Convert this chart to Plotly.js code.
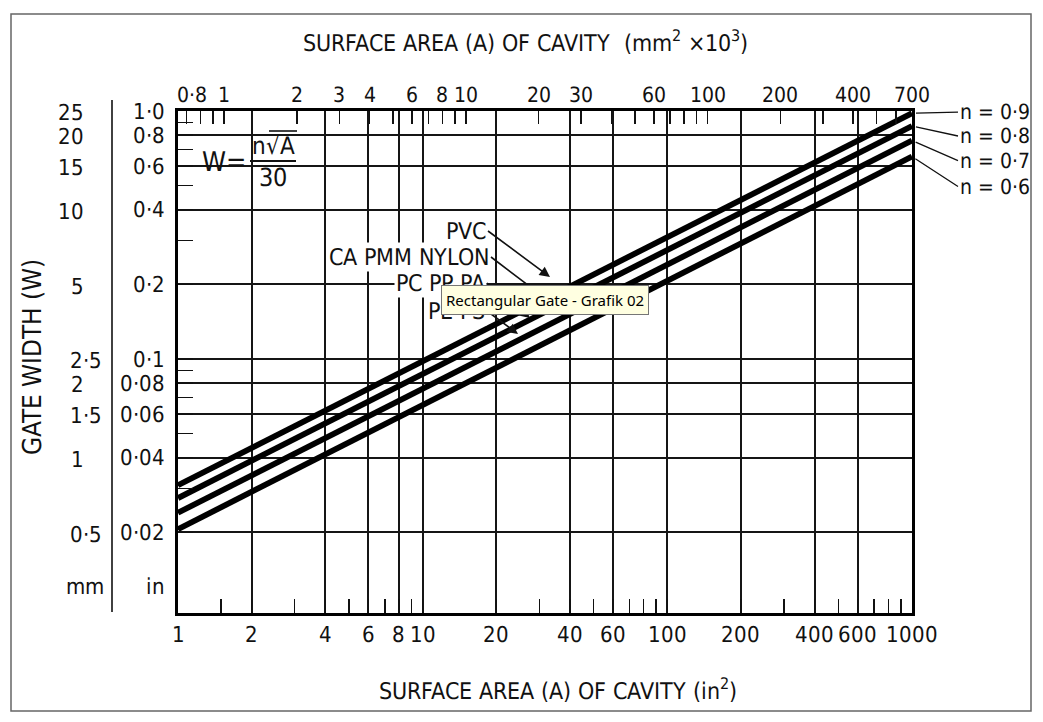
<!DOCTYPE html>
<html>
<head>
<meta charset="utf-8">
<script src="https://cdn.plot.ly/plotly-3.0.1.min.js"></script>
<style>
@font-face { font-family: 'CondSans'; src: local('DejaVu Sans Condensed'), local('DejaVuSansCondensed'), local('Liberation Sans Narrow'), local('LiberationSansNarrow-Regular'); }
html,body{margin:0;padding:0;background:#fff;}#chart{width:1043px;height:722px;}
</style>
</head>
<body>
<div id="chart"></div>
<script>
// ---- data ----
const area_in2 = [1, 1000];
const width_n09 = [0.031, 0.98];
const width_n08 = [0.0275, 0.87];
const width_n07 = [0.024, 0.76];
const width_n06 = [0.0206, 0.655];
const n_labels = ['n = 0·9', 'n = 0·8', 'n = 0·7', 'n = 0·6'];

const bottom_tick_vals = [1, 2, 4, 6, 8, 10, 20, 40, 60, 100, 200, 400, 600, 1000];
const bottom_tick_text = ['1', '2', '4', '6', '8', '10', '20', '40', '60', '100', '200', '400', '600', '1000'];
const bottom_minor_vals = [1.5, 3, 5, 7, 9, 30, 50, 70, 80, 90, 300, 500, 700, 800, 900];

const top_tick_vals = [0.8, 1, 2, 3, 4, 6, 8, 10, 20, 30, 60, 100, 200, 400, 700];
const top_tick_text = ['0·8\u00a0\u00a0\u00a0', '1', '2', '3', '4', '6', '8', '10', '20', '30', '60', '100', '200', '400', '700'];
const top_minor_vals = [0.7, 0.9, 5, 7, 9, 40, 50, 70, 80, 90, 300, 500, 600];
const top_range_mm2k = [0.645, 700];

const in_tick_vals = [1, 0.8, 0.6, 0.4, 0.2, 0.1, 0.08, 0.06, 0.04, 0.02];
const in_tick_text = ['1·0', '0·8', '0·6', '0·4', '0·2', '0·1', '0·08', '0·06', '0·04', '0·02'];
const in_minor_vals = [0.9, 0.7, 0.5, 0.3, 0.09, 0.07, 0.05, 0.03];
const in_range = [0.00946, 1.0];

const mm_int_vals = [25, 20, 15, 10, 5, 2, 1];
const mm_int_text = ['25', '20', '15', '10', '5', '2', '1'];
const mm_dec_vals = [2.5, 1.5, 0.5];
const mm_dec_text = ['2·5', '1·5', '0·5'];
const MM_PER_IN = 25.4;

const materials = ['PVC', 'CA PMM NYLON', 'PC PP PA', 'PE PS'];

// ---- layout helpers (pixel -> paper) ----
const W = 1043, H = 722;
const px = v => v / W;
const py = v => 1 - v / H;
const FONT = 'CondSans, "DejaVu Sans Condensed", "Liberation Sans Narrow", sans-serif';
const INK = '#111';
const L = Math.log10;

function draw() {
  const lineStyle = {color: '#000', width: 5.8};
  const traces = [
    {x: area_in2, y: width_n09, mode: 'lines', line: lineStyle, name: 'n=0.9'},
    {x: area_in2, y: width_n08, mode: 'lines', line: lineStyle, name: 'n=0.8'},
    {x: area_in2, y: width_n07, mode: 'lines', line: lineStyle, name: 'n=0.7'},
    {x: area_in2, y: width_n06, mode: 'lines', line: lineStyle, name: 'n=0.6'},
    {x: [], y: [], xaxis: 'x2', yaxis: 'y', mode: 'lines', showlegend: false},
    {x: [], y: [], xaxis: 'x', yaxis: 'y2', mode: 'lines', showlegend: false},
    {x: [], y: [], xaxis: 'x', yaxis: 'y3', mode: 'lines', showlegend: false}
  ];

  const ends = [width_n09[1], width_n08[1], width_n07[1], width_n06[1]];
  const nAy = [-1, 10, 20, 30];

  const P = (x, y, text, size, extra) => Object.assign({
    xref: 'paper', yref: 'paper', x: px(x), y: py(y), xanchor: 'center', yanchor: 'middle',
    showarrow: false, text: text, font: {family: FONT, size: size, color: INK}
  }, extra || {});

  const annotations = [
    P(525, 41, 'SURFACE AREA (A) OF CAVITY  (mm<sup>2</sup> ×10<sup>3</sup>)', 23),
    P(558, 689, 'SURFACE AREA (A) OF CAVITY (in<sup>2</sup>)', 23),
    P(32, 357, 'GATE WIDTH (W)', 26, {textangle: -90}),
    P(85, 586, 'mm', 22),
    P(155, 586, 'in', 22),
    P(224, 162, 'W=', 27),
    P(273, 146, 'n√A', 24),
    P(273, 177, '30', 25)
  ];

  // material pointers (head px, tail px)
  const matHeads = [[550, 277], [545, 298], [530, 318], [518, 334]];
  const matTails = [[488, 231], [491, 257], [487, 283], [487, 311]];
  materials.forEach((m, i) => {
    annotations.push({
      xref: 'paper', yref: 'paper', x: px(matHeads[i][0]), y: py(matHeads[i][1]),
      ax: matTails[i][0] - matHeads[i][0], ay: matTails[i][1] - matHeads[i][1],
      xanchor: 'right', yanchor: 'middle', text: m, showarrow: true,
      arrowhead: 2, arrowsize: 1.3, arrowwidth: 1.6, arrowcolor: INK,
      bgcolor: '#fff', borderpad: 1, font: {family: FONT, size: 23, color: INK}
    });
  });

  // n labels at line ends
  n_labels.forEach((t, i) => {
    annotations.push({
      x: L(area_in2[1]), y: L(ends[i]), xref: 'x', yref: 'y',
      ax: 46, ay: nAy[i], xanchor: 'left', yanchor: 'middle', text: t,
      showarrow: true, arrowhead: 0, arrowwidth: 1.3, arrowcolor: INK, standoff: 4,
      font: {family: FONT, size: 21, color: INK}
    });
  });

  // tooltip
  annotations.push(P(545, 300, 'Rectangular Gate - Grafik 02', 15, {
    bgcolor: '#ffffe1', bordercolor: '#767676', borderwidth: 1, borderpad: 4,
    font: {family: 'Noto Sans, DejaVu Sans, sans-serif', size: 15, color: '#000'}
  }));

  const shapes = [
    {type: 'rect', xref: 'x', yref: 'y', layer: 'between', x0: L(1), x1: L(3.95), y0: L(0.41), y1: L(1.0),
     fillcolor: '#fff', line: {width: 0}},
    {type: 'line', xref: 'paper', yref: 'paper', x0: px(250), x1: px(296), y0: py(161), y1: py(161), line: {color: INK, width: 2}},
    {type: 'line', xref: 'paper', yref: 'paper', x0: px(269), x1: px(297), y0: py(131), y1: py(131), line: {color: INK, width: 1.6}},
    {type: 'line', xref: 'paper', yref: 'paper', x0: px(112), x1: px(112), y0: py(612), y1: py(100), line: {color: INK, width: 1.6}},
    {type: 'rect', xref: 'paper', yref: 'paper', x0: px(11), x1: px(1031), y0: py(711), y1: py(14), line: {color: '#666', width: 1.5}}
  ];

  const tickFont = {family: FONT, size: 22, color: INK};
  const layout = {
    width: W, height: H,
    margin: {l: 0, r: 0, t: 0, b: 0, pad: 0},
    paper_bgcolor: '#fff', plot_bgcolor: '#fff',
    showlegend: false, hovermode: false,
    xaxis: {
      type: 'log', domain: [px(178), px(912)], range: [L(area_in2[0]), L(area_in2[1])],
      tickmode: 'array', tickvals: bottom_tick_vals, ticktext: bottom_tick_text, tickangle: 0,
      ticks: 'inside', ticklen: 14, tickwidth: 1.5, tickcolor: INK,
      showgrid: true, gridcolor: '#151515', gridwidth: 1.8,
      minor: {tickmode: 'array', tickvals: bottom_minor_vals, ticks: 'inside', ticklen: 14, tickwidth: 1.5, tickcolor: INK, showgrid: false},
      showline: true, linecolor: '#000', linewidth: 3, mirror: true,
      zeroline: false, tickfont: tickFont, ticklabelstandoff: 0, anchor: 'y'
    },
    xaxis2: {
      type: 'log', overlaying: 'x', side: 'top', anchor: 'y',
      range: [L(top_range_mm2k[0]), L(top_range_mm2k[1])],
      tickmode: 'array', tickvals: top_tick_vals, ticktext: top_tick_text, tickangle: 0,
      ticks: 'inside', ticklen: 13, tickwidth: 1.5, tickcolor: INK,
      minor: {tickmode: 'array', tickvals: top_minor_vals, ticks: 'inside', ticklen: 13, tickwidth: 1.5, tickcolor: INK, showgrid: false},
      showgrid: false, showline: false, zeroline: false, tickfont: {family: FONT, size: 21, color: INK}, ticklabelstandoff: 4
    },
    yaxis: {
      type: 'log', domain: [py(613), py(111)], range: [L(in_range[0]), L(in_range[1])],
      tickmode: 'array', tickvals: in_tick_vals, ticktext: in_tick_text,
      ticks: 'inside', ticklen: 15, tickwidth: 1.5, tickcolor: INK,
      minor: {tickmode: 'array', tickvals: in_minor_vals, ticks: 'inside', ticklen: 15, tickwidth: 1.5, tickcolor: INK, showgrid: false},
      showgrid: true, gridcolor: '#151515', gridwidth: 1.8,
      showline: true, linecolor: '#000', linewidth: 3, mirror: true,
      zeroline: false, tickfont: tickFont, ticklabelstandoff: 6, anchor: 'x'
    },
    yaxis2: {
      type: 'log', overlaying: 'y', anchor: 'free', position: px(84), side: 'left',
      range: [L(in_range[0] * MM_PER_IN), L(in_range[1] * MM_PER_IN)],
      tickmode: 'array', tickvals: mm_int_vals, ticktext: mm_int_text, ticks: '',
      showgrid: false, showline: false, zeroline: false, tickfont: tickFont, ticklabelstandoff: 0
    },
    yaxis3: {
      type: 'log', overlaying: 'y', anchor: 'free', position: px(102), side: 'left',
      range: [L(in_range[0] * MM_PER_IN), L(in_range[1] * MM_PER_IN)],
      tickmode: 'array', tickvals: mm_dec_vals, ticktext: mm_dec_text, ticks: '',
      showgrid: false, showline: false, zeroline: false, tickfont: tickFont, ticklabelstandoff: 0
    },
    annotations: annotations,
    shapes: shapes
  };

  Plotly.newPlot('chart', traces, layout, {staticPlot: true, displayModeBar: false});
}

if (document.fonts && document.fonts.load) {
  document.fonts.load('22px CondSans').then(draw, draw);
} else {
  draw();
}
</script>
</body>
</html>
